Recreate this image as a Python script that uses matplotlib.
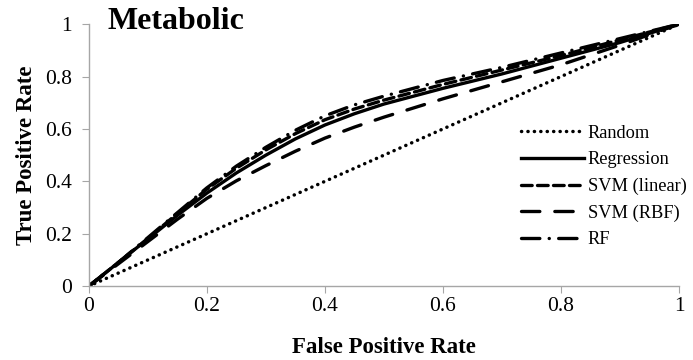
import matplotlib
matplotlib.use("Agg")
import matplotlib.pyplot as plt
import numpy as np

plt.rcParams['font.family'] = ['Liberation Serif', 'DejaVu Serif']

fpr = [0, 0.05, 0.1, 0.15, 0.2, 0.25, 0.3, 0.35, 0.4, 0.45, 0.5, 0.6, 0.7, 0.8, 0.9, 1]
random_tpr = [0, 0.05, 0.1, 0.15, 0.2, 0.25, 0.3, 0.35, 0.4, 0.45, 0.5, 0.6, 0.7, 0.8, 0.9, 1]
regression = [0, 0.09, 0.18, 0.27, 0.355, 0.432, 0.50, 0.562, 0.615, 0.658, 0.695, 0.755, 0.81, 0.87, 0.93, 1]
svm_linear = [0, 0.09, 0.182, 0.277, 0.37, 0.45, 0.52, 0.582, 0.635, 0.676, 0.71, 0.77, 0.825, 0.88, 0.94, 1]
svm_rbf = [0, 0.085, 0.17, 0.255, 0.335, 0.402, 0.46, 0.515, 0.565, 0.607, 0.645, 0.715, 0.78, 0.845, 0.92, 1]
rf = [0, 0.09, 0.185, 0.28, 0.375, 0.458, 0.53, 0.595, 0.65, 0.692, 0.725, 0.785, 0.835, 0.89, 0.945, 1]

ticks = [0, 0.2, 0.4, 0.6, 0.8, 1]
tick_labels = ["0", "0.2", "0.4", "0.6", "0.8", "1"]

fig = plt.figure(figsize=(6.93, 3.6), dpi=100)
ax = fig.add_axes([0.128, 0.205, 0.852, 0.728])

lw = 2.4
ax.plot(fpr, random_tpr, color='black', lw=2.5, dashes=(0.05, 1.8),
        dash_capstyle='round', label='Random')
ax.plot(fpr, regression, color='black', lw=lw, label='Regression')
ax.plot(fpr, svm_linear, color='black', lw=lw, dashes=(3.2, 1.6),
        dash_capstyle='round', label='SVM (linear)')
ax.plot(fpr, svm_rbf, color='black', lw=lw, dashes=(5.5, 4.5),
        dash_capstyle='round', label='SVM (RBF)')
ax.plot(fpr, rf, color='black', lw=lw, dashes=(5.5, 2.8, 0.05, 2.8),
        dash_capstyle='round', label='RF')

ax.set_xlim(0, 1)
ax.set_ylim(0, 1)
ax.set_xticks(ticks)
ax.set_xticklabels(tick_labels)
ax.set_yticks(ticks)
ax.set_yticklabels(tick_labels)

for s in ['top', 'right']:
    ax.spines[s].set_visible(False)
for s in ['left', 'bottom']:
    ax.spines[s].set_color('#a6a6a6')
    ax.spines[s].set_linewidth(1.0)
ax.tick_params(axis='both', direction='out', length=5, color='#a6a6a6',
               labelsize=15.5)
ax.tick_params(axis='x', pad=3)
ax.tick_params(axis='y', pad=7)

ax.set_xlabel("False Positive Rate", fontsize=16.5, fontweight='bold', labelpad=15)
ax.set_ylabel("True Positive Rate", fontsize=16.5, fontweight='bold', labelpad=6)

ax.text(0.032, 1.01, "Metabolic", transform=ax.transAxes, fontsize=23,
        fontweight='bold', va='center', ha='left')

ax.legend(loc='center left', bbox_to_anchor=(0.732, 0.38), frameon=False,
          fontsize=13.2, handlelength=3.45, handletextpad=0.2, labelspacing=0.52,
          borderpad=0, borderaxespad=0)

fig.savefig("out.png", dpi=100)
